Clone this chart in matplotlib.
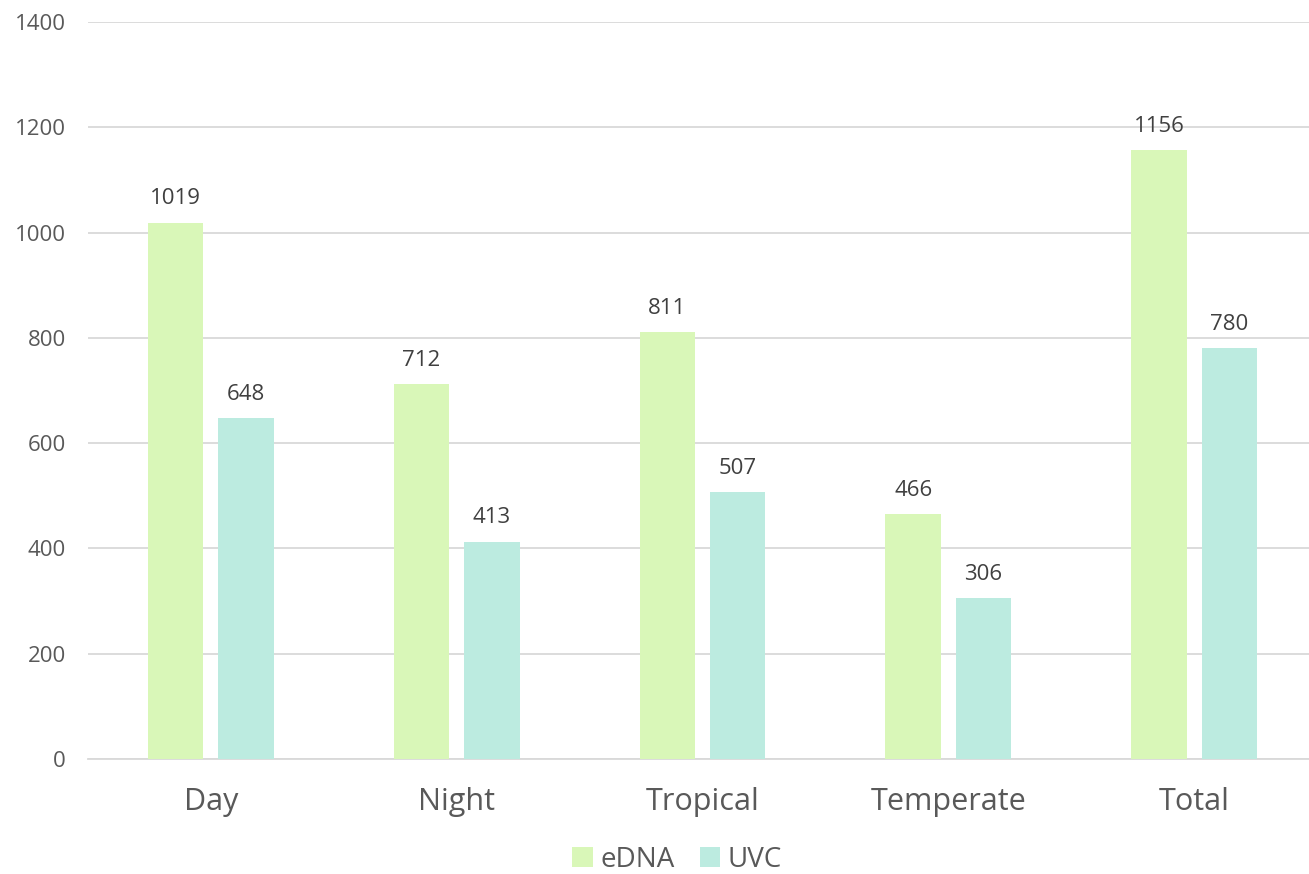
import matplotlib
matplotlib.use("Agg")
from matplotlib import pyplot as plt
import numpy as np

categories = ["Day", "Night", "Tropical", "Temperate", "Total"]
edna = [1019, 712, 811, 466, 1156]
uvc = [648, 413, 507, 306, 780]
yticks = [0, 200, 400, 600, 800, 1000, 1200, 1400]

plt.rcParams["font.family"] = ["Open Sans", "DejaVu Sans"]

fig = plt.figure(figsize=(13.09, 8.74), dpi=100)
ax = fig.add_axes([88 / 1309, 1 - 759 / 874, (1317 - 88) / 1309, (759 - 22) / 874])

x = np.arange(len(categories))
w = 0.225
off = 0.143
b1 = ax.bar(x - off, edna, w, color="#d9f7b8", label="eDNA", zorder=3)
b2 = ax.bar(x + off, uvc, w, color="#bcebe0", label="UVC", zorder=3)

# value labels above each bar
for bars, vals in ((b1, edna), (b2, uvc)):
    for rect, v in zip(bars, vals):
        ax.annotate(str(v), (rect.get_x() + rect.get_width() / 2, v),
                    xytext=(0, 17), textcoords="offset points",
                    ha="center", va="center", fontsize=16, color="#404040")

ax.set_xlim(-0.5, len(categories) - 0.5)
ax.set_ylim(0, 1400)
ax.set_yticks(yticks)
ax.set_xticks(x)
ax.set_xticklabels(categories)
ax.grid(axis="y", color="#d9d9d9", linewidth=1.3, zorder=0)
for s in ["top", "right", "left"]:
    ax.spines[s].set_visible(False)
ax.spines["bottom"].set_color("#d9d9d9")
ax.spines["bottom"].set_linewidth(1.3)
ax.tick_params(axis="y", length=0, labelsize=16, labelcolor="#595959", pad=16)
ax.tick_params(axis="x", length=0, labelsize=22, labelcolor="#595959", pad=20)

leg = fig.legend(loc="center", bbox_to_anchor=(677 / 1309, 1 - 860 / 874), ncol=2,
                 frameon=False, fontsize=20, handlelength=0.75, handleheight=0.75,
                 handletextpad=0.25, columnspacing=0.9)
for t in leg.get_texts():
    t.set_color("#595959")

fig.savefig("out.png", dpi=100)
